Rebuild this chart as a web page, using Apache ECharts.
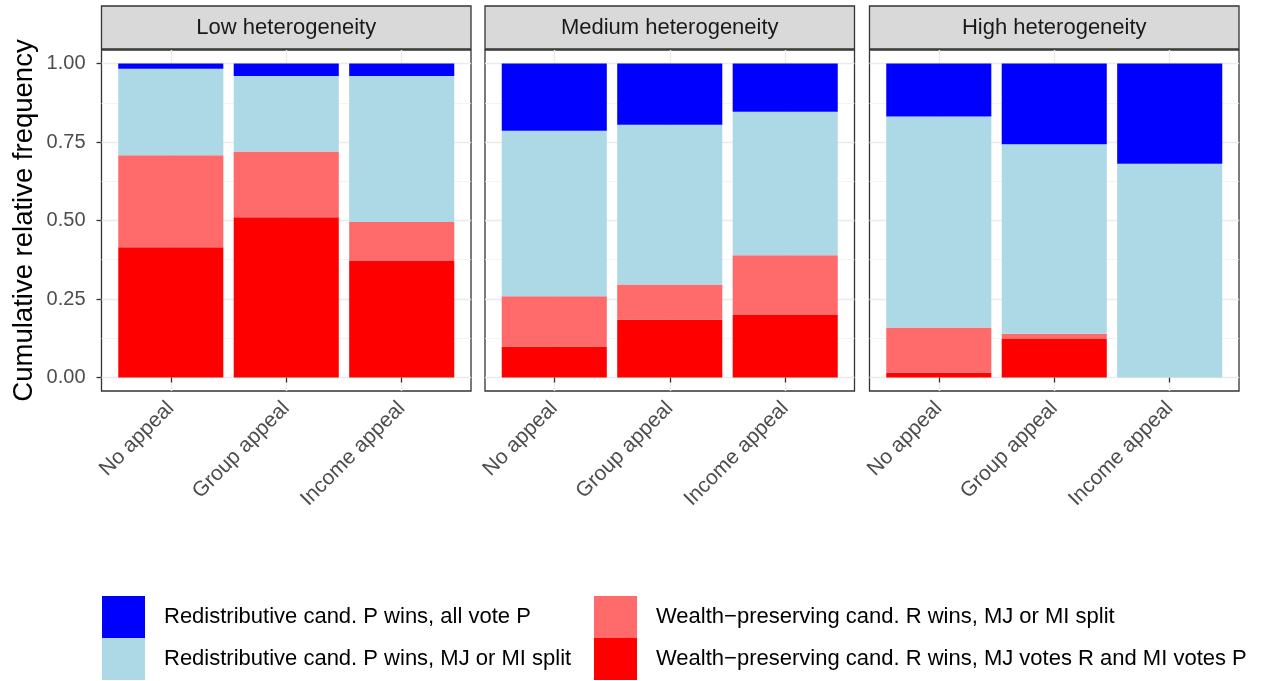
<!DOCTYPE html>
<html>
<head>
<meta charset="utf-8">
<script src="https://cdn.jsdelivr.net/npm/echarts@6/dist/echarts.min.js"></script>
<style>
  html, body { margin: 0; padding: 0; background: #fff; }
  #chart { width: 1263px; height: 681px; }
</style>
</head>
<body>
<div id="chart"></div>
<script>
// Facets and categories
const panels = ['Low heterogeneity', 'Medium heterogeneity', 'High heterogeneity'];
const categories = ['No appeal', 'Group appeal', 'Income appeal'];
const yTicks = [0, 0.25, 0.5, 0.75, 1];
const yMinorTicks = [0.125, 0.375, 0.625, 0.875];

// Outcome names (legend order)
const outcomeNames = [
  'Redistributive cand. P wins, all vote P',
  'Redistributive cand. P wins, MJ or MI split',
  'Wealth\u2212preserving cand. R wins, MJ or MI split',
  'Wealth\u2212preserving cand. R wins, MJ votes R and MI votes P'
];

// Relative frequency of each outcome; one row per panel, one value per category
const pAllVoteP = [
  [0.017, 0.040, 0.040],
  [0.214, 0.195, 0.154],
  [0.169, 0.257, 0.319]
];
const pSplit = [
  [0.275, 0.240, 0.465],
  [0.527, 0.509, 0.457],
  [0.672, 0.604, 0.681]
];
const rSplit = [
  [0.293, 0.210, 0.124],
  [0.160, 0.112, 0.190],
  [0.143, 0.016, 0.000]
];
const rVotesRandP = [
  [0.415, 0.510, 0.371],
  [0.099, 0.184, 0.199],
  [0.016, 0.123, 0.000]
];

const colors = {
  allVoteP: '#0000FF',
  pSplit: '#ADD8E6',
  rSplit: '#FF6A6A',
  rVotes: '#FF0000'
};

const FONT = '"Liberation Sans", Arial, Helvetica, sans-serif';
const panelLeft = [101.5, 485, 869.5];
const panelWidth = 369.5;
const panelTop = 50;
const panelHeight = 341;
const yMin = -0.043, yMax = 1.043;
const xMin = 0.4, xMax = 3.6;           // discrete scale padded by 0.6 on each side
const band = panelWidth / (xMax - xMin);

const grids = [], xAxes = [], yAxes = [], series = [], graphics = [];

panels.forEach((title, i) => {
  // panel frame, grid lines and axis labels
  const frame = grids.length;
  grids.push({
    left: panelLeft[i], top: panelTop, width: panelWidth, height: panelHeight,
    show: true, borderColor: '#333333', borderWidth: 1.3, backgroundColor: '#ffffff'
  });
  xAxes.push({
    type: 'value', gridIndex: frame, min: xMin, max: xMax,
    axisLine: { show: false },
    axisTick: { show: true, customValues: [1, 2, 3], length: 5, lineStyle: { color: '#333333', width: 1.3 } },
    axisLabel: {
      show: true, customValues: [1, 2, 3], rotate: 45, margin: 14,
      formatter: v => categories[Math.round(v) - 1] || '',
      color: '#4D4D4D', fontSize: 21, fontFamily: FONT
    },
    splitLine: { show: true, lineStyle: { color: '#EBEBEB', width: 1.4 } }
  });
  yAxes.push({
    type: 'value', gridIndex: frame, min: yMin, max: yMax,
    name: i === 0 ? 'Cumulative relative frequency' : '',
    nameLocation: 'middle', nameGap: 63,
    nameTextStyle: { fontSize: 27.5, color: '#000000', fontFamily: FONT },
    axisLine: { show: false },
    axisTick: { show: i === 0, customValues: yTicks, length: 5, lineStyle: { color: '#333333', width: 1.3 } },
    axisLabel: {
      show: i === 0, customValues: yTicks, margin: 16,
      formatter: v => v.toFixed(2),
      color: '#4D4D4D', fontSize: 20, fontFamily: FONT
    },
    splitLine: { show: true, lineStyle: { color: '#EBEBEB', width: 1.4 } }
  });
  // minor grid lines
  yAxes.push({
    type: 'value', gridIndex: frame, min: yMin, max: yMax,
    axisLine: { show: false },
    axisTick: { show: false, customValues: yMinorTicks },
    axisLabel: { show: false },
    splitLine: { show: true, lineStyle: { color: '#F0F0F0', width: 0.8 } }
  });

  // bar area: three category bands centred on 1, 2, 3 of the frame scale
  const inner = grids.length;
  grids.push({
    left: panelLeft[i] + (1 - xMin - 0.5) * band, top: panelTop,
    width: 3 * band, height: panelHeight, show: false
  });
  xAxes.push({ type: 'category', gridIndex: inner, data: categories, show: false });
  yAxes.push({ type: 'value', gridIndex: inner, min: yMin, max: yMax, show: false });
  const barX = xAxes.length - 1;
  const barY = yAxes.length - 1;

  const layers = [
    { name: outcomeNames[3], data: rVotesRandP[i], color: colors.rVotes },
    { name: outcomeNames[2], data: rSplit[i], color: colors.rSplit },
    { name: outcomeNames[1], data: pSplit[i], color: colors.pSplit },
    { name: outcomeNames[0], data: pAllVoteP[i], color: colors.allVoteP }
  ];
  layers.forEach(l => {
    series.push({
      type: 'bar', name: l.name, xAxisIndex: barX, yAxisIndex: barY,
      stack: 'panel' + i, barWidth: '91%',
      itemStyle: { color: l.color },
      emphasis: { disabled: true },
      data: l.data
    });
  });

  // facet strip
  graphics.push({
    type: 'group',
    children: [
      {
        type: 'rect',
        shape: { x: panelLeft[i], y: 6, width: panelWidth, height: 43 },
        style: { fill: '#D9D9D9', stroke: '#333333', lineWidth: 1.3 }
      },
      {
        type: 'text',
        x: panelLeft[i] + panelWidth / 2, y: 28,
        style: {
          text: title, textAlign: 'center', textVerticalAlign: 'middle',
          fill: '#1A1A1A', fontSize: 22, fontFamily: FONT
        }
      }
    ]
  });
});

const legendCommon = {
  orient: 'vertical', top: 596, padding: 0, itemWidth: 43, itemHeight: 42, itemGap: 0,
  icon: 'rect', selectedMode: false,
  textStyle: { fontSize: 22, color: '#000000', fontFamily: FONT, padding: [0, 0, 0, 14] }
};

const chart = echarts.init(document.getElementById('chart'), null, { renderer: 'canvas' });
chart.setOption({
  animation: false,
  backgroundColor: '#ffffff',
  grid: grids,
  xAxis: xAxes,
  yAxis: yAxes,
  series: series,
  legend: [
    Object.assign({ left: 102, data: [outcomeNames[0], outcomeNames[1]] }, legendCommon),
    Object.assign({ left: 594, data: [outcomeNames[2], outcomeNames[3]] }, legendCommon)
  ],
  graphic: graphics
});
</script>
</body>
</html>
